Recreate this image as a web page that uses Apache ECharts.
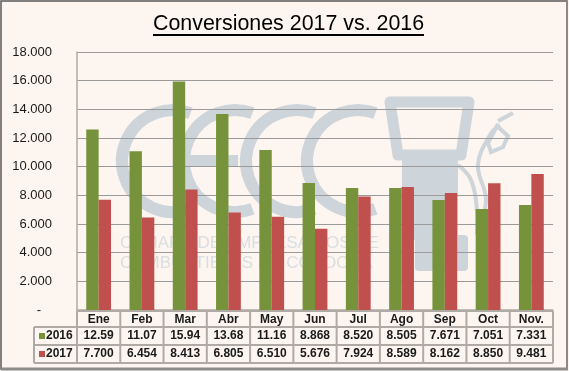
<!DOCTYPE html>
<html>
<head>
<meta charset="utf-8">
<style>html,body{margin:0;padding:0;background:#FDF5EF}#c{width:569px;height:371px}</style>
<script src="https://cdn.jsdelivr.net/npm/echarts@6/dist/echarts.min.js"></script>
</head>
<body>
<div id="c"></div>
<script>
const categories = ['Ene','Feb','Mar','Abr','May','Jun','Jul','Ago','Sep','Oct','Nov.'];
const values2016 = [12590,11070,15940,13680,11160,8868,8520,8505,7671,7051,7331];
const values2017 = [7700,6454,8413,6805,6510,5676,7924,8589,8162,8850,9481];
const labels2016 = ['12.59','11.07','15.94','13.68','11.16','8.868','8.520','8.505','7.671','7.051','7.331'];
const labels2017 = ['7.700','6.454','8.413','6.805','6.510','5.676','7.924','8.589','8.162','8.850','9.481'];
const tickLabels = ['-   ','2.000','4.000','6.000','8.000','10.000','12.000','14.000','16.000','18.000'];

const W = 569, H = 371;
const G = {l:77, r:553, t:52, b:310};
const rows = [311, 327, 345, 363];
const legendLeft = 34;
const GREEN = '#76933C', RED = '#C0504D', BG = '#FDF5EF', LINE = '#B0AAA5', MARK = '#CDD4DA';
const FONT = '"Liberation Sans", Arial, sans-serif';

const gfx = [];
const line = (x1,y1,x2,y2,c,w,z) => gfx.push({type:'line',silent:true,z:z||1,shape:{x1,y1,x2,y2},style:{stroke:c||LINE,lineWidth:w||2}});

// watermark
[173,235,297,358].forEach((cx,i) => {
  gfx.push({type:'arc',silent:true,z:-5,shape:{cx,cy:161,r:51,startAngle:70*Math.PI/180,endAngle:290*Math.PI/180,clockwise:true},style:{stroke:MARK,lineWidth:12,fill:null}});
  if(i===1) gfx.push({type:'rect',silent:true,z:-5,shape:{x:cx-52,y:155,width:55,height:12},style:{fill:MARK}});
});
gfx.push({type:'polygon',silent:true,z:-5,shape:{points:[[390,102],[469,102],[461,155],[398,155]]},style:{fill:'none',stroke:MARK,lineWidth:11,lineJoin:'round'}});
gfx.push({type:'rect',silent:true,z:-5,shape:{x:402,y:155,width:56,height:85},style:{fill:MARK}});
gfx.push({type:'rect',silent:true,z:-5,shape:{x:415,y:235,width:53,height:36,r:4},style:{fill:MARK}});
gfx.push({type:'polyline',silent:true,z:-5,shape:{smooth:0.4,points:[[458,165],[470,178],[476,200],[477,235]]},style:{stroke:MARK,lineWidth:4,fill:null}});
gfx.push({type:'polyline',silent:true,z:-5,shape:{smooth:0.4,points:[[478,232],[486,200],[478,165],[490,135],[500,125]]},style:{stroke:MARK,lineWidth:4,fill:null}});
gfx.push({type:'polygon',silent:true,z:-5,shape:{points:[[497,126],[508,136],[503,147],[491,152],[488,143]]},style:{fill:'none',stroke:MARK,lineWidth:4}});
gfx.push({type:'line',silent:true,z:-5,shape:{x1:498,y1:121,x2:513,y2:113},style:{stroke:MARK,lineWidth:4}});
['CÁMARA DE EMPRESARIOS DE','COMBUSTIBLES DE CÓRDOBA'].forEach((t,i) => {
  gfx.push({type:'text',silent:true,z:-5,x:120,y:243+i*20,style:{text:t,font:'17px '+FONT,fill:'#D9DEE1',textAlign:'left',textVerticalAlign:'middle'}});
});

// outer frame
gfx.push({type:'rect',silent:true,z:20,shape:{x:1,y:1,width:W-3,height:H-3},style:{fill:'none',stroke:'#5A5A5A',lineWidth:1.5}});
gfx.push({type:'line',silent:true,z:20,shape:{x1:1,y1:H-2,x2:W-1,y2:H-2},style:{stroke:'#8C8C8C',lineWidth:3}});
gfx.push({type:'line',silent:true,z:20,shape:{x1:W-2,y1:1,x2:W-2,y2:H-1},style:{stroke:'#8C8C8C',lineWidth:1.5}});

// title underline
gfx.push({type:'rect',silent:true,z:5,shape:{x:153,y:34,width:271,height:2},style:{fill:'#000'}});

// data table
const n = categories.length, cw = (G.r-G.l)/n;
rows.forEach((y,i) => line(i<1?G.l:legendLeft, y, G.r, y));
line(legendLeft, rows[1], legendLeft, rows[3]);
for(let i=0;i<=n;i++) line(G.l+i*cw, rows[0], G.l+i*cw, rows[3]);
const cell = (t,x,y,fill,align) => gfx.push({type:'text',silent:true,z:6,x,y,style:{text:t,font:'bold 12px '+FONT,fill:fill||'#1a1a1a',textAlign:align||'center',textVerticalAlign:'middle'}});
categories.forEach((c,i) => {
  const x = G.l+(i+.5)*cw;
  cell(c,x,(rows[0]+rows[1])/2+.5);
  cell(labels2016[i],x,(rows[1]+rows[2])/2);
  cell(labels2017[i],x,(rows[2]+rows[3])/2);
});
[['2016',GREEN,1],['2017',RED,2]].forEach(([t,col,r]) => {
  const y = (rows[r]+rows[r+1])/2;
  gfx.push({type:'rect',silent:true,z:6,shape:{x:39,y:y-3,width:6,height:6},style:{fill:col}});
  cell(t,46,y,null,'left');
});

const chart = echarts.init(document.getElementById('c'),null,{renderer:'canvas'});
chart.setOption({
  animation:false,
  backgroundColor:BG,
  title:{text:'Conversiones 2017 vs. 2016',left:153,top:12,padding:0,
    textStyle:{fontFamily:FONT,fontSize:21.4,fontWeight:'normal',color:'#000',lineHeight:24}},
  grid:{left:G.l,right:W-G.r,top:G.t,bottom:H-G.b},
  xAxis:{type:'category',data:categories,
    axisLine:{lineStyle:{color:LINE,width:1.5}},axisTick:{show:false},axisLabel:{show:false},splitLine:{show:false}},
  yAxis:{type:'value',min:0,max:18000,interval:2000,
    axisLine:{show:true,lineStyle:{color:LINE,width:1.5}},axisTick:{show:false},
    axisLabel:{margin:25,fontFamily:FONT,fontSize:13,color:'#1a1a1a',formatter:(v)=>tickLabels[v/2000]},
    splitLine:{lineStyle:{color:'#9A9A9A',width:1.2}}},
  series:[
    {name:'2016',type:'bar',data:values2016,barWidth:12.4,barGap:'0%',itemStyle:{color:GREEN},z:3},
    {name:'2017',type:'bar',data:values2017,barWidth:12.4,barGap:'0%',itemStyle:{color:RED},z:3}
  ],
  graphic:{elements:gfx}
});
</script>
</body>
</html>
